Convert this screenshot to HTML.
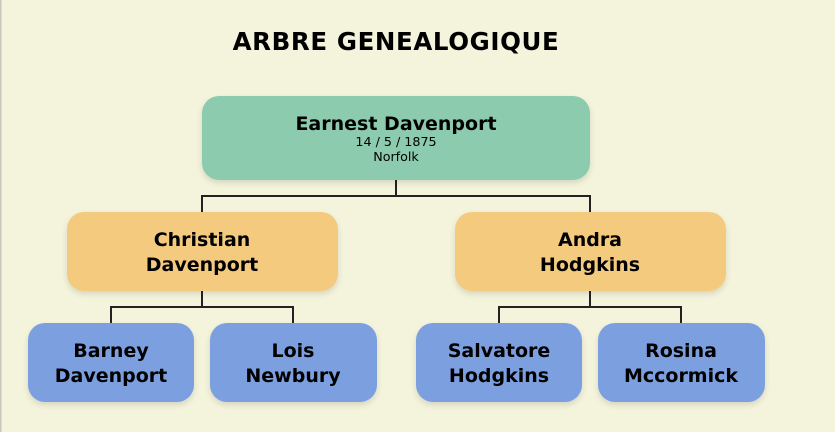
<!DOCTYPE html>
<html><head><meta charset="utf-8"><style>
html,body{margin:0;padding:0;background:#f4f4dc;}
svg{display:block}
text{font-family:"DejaVu Sans","Liberation Sans",sans-serif;text-anchor:middle;fill:#000}
.n{font-weight:bold;font-size:19px}
.m{font-size:12.7px}
</style></head><body>
<svg width="835" height="432" viewBox="0 0 835 432">
<defs><filter id="s" x="-10%" y="-10%" width="120%" height="140%"><feDropShadow dx="0" dy="3" stdDeviation="3" flood-color="#000" flood-opacity="0.12"/></filter></defs>
<rect x="0" y="0" width="835" height="432" fill="#f4f4dc"/>
<rect x="0" y="0" width="1.5" height="432" fill="#c8c8bc"/>
<text x="396" y="50" style="font-weight:bold;font-size:24.5px;letter-spacing:0.6px">ARBRE GENEALOGIQUE</text>
<g stroke="#222" stroke-width="2" fill="none">
<path d="M396 180V196M202 212V196H590V212"/>
<path d="M202 291V307M111 323V307H293V323"/>
<path d="M590 291V307M499 323V307H681V323"/>
</g>
<g filter="url(#s)">
<rect x="202" y="96" width="388" height="84" rx="17" fill="#8dcbae"/>
<rect x="67" y="212" width="271" height="79" rx="17" fill="#f4ca7e"/>
<rect x="455" y="212" width="271" height="79" rx="17" fill="#f4ca7e"/>
<rect x="28" y="323" width="166" height="79" rx="17" fill="#7b9fe0"/>
<rect x="210" y="323" width="167" height="79" rx="17" fill="#7b9fe0"/>
<rect x="416" y="323" width="166" height="79" rx="17" fill="#7b9fe0"/>
<rect x="598" y="323" width="167" height="79" rx="17" fill="#7b9fe0"/>
</g>
<text class="n" x="396" y="130">Earnest Davenport</text>
<text class="m" x="396" y="146">14 / 5 / 1875</text>
<text class="m" x="396" y="161">Norfolk</text>
<text class="n" x="202" y="246">Christian</text>
<text class="n" x="202" y="271">Davenport</text>
<text class="n" x="590" y="246">Andra</text>
<text class="n" x="590" y="271">Hodgkins</text>
<text class="n" x="111" y="357">Barney</text>
<text class="n" x="111" y="382">Davenport</text>
<text class="n" x="293" y="357">Lois</text>
<text class="n" x="293" y="382">Newbury</text>
<text class="n" x="499" y="357">Salvatore</text>
<text class="n" x="499" y="382">Hodgkins</text>
<text class="n" x="681" y="357">Rosina</text>
<text class="n" x="681" y="382">Mccormick</text>
</svg>
</body></html>
